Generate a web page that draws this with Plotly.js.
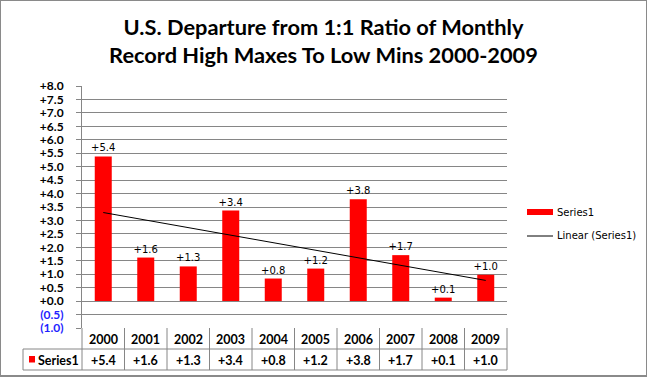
<!DOCTYPE html>
<html>
<head>
<meta charset="utf-8">
<script src="https://cdn.plot.ly/plotly-3.0.1.min.js"></script>
<style>
  html, body { margin: 0; padding: 0; background: #fff; }
  #wrap { width: 647px; height: 377px; box-sizing: border-box; border: 1px solid #8a8a8a; border-bottom-width: 2px; position: relative; overflow: hidden; }
  #chart { position: absolute; left: -1px; top: -1px; width: 647px; height: 377px; }
</style>
</head>
<body>
<div id="wrap"><div id="chart"></div></div>
<script>
// ---- data ----
const years = ['2000', '2001', '2002', '2003', '2004', '2005', '2006', '2007', '2008', '2009'];
const values = [5.38, 1.62, 1.29, 3.37, 0.84, 1.21, 3.79, 1.71, 0.13, 0.98];
const valueLabels = ['+5.4', '+1.6', '+1.3', '+3.4', '+0.8', '+1.2', '+3.8', '+1.7', '+0.1', '+1.0'];
const tickValues = [-1, -0.5, 0, 0.5, 1, 1.5, 2, 2.5, 3, 3.5, 4, 4.5, 5, 5.5, 6, 6.5, 7, 7.5, 8];
const tickLabels = ['(1.0)', '(0.5)', '+0.0', '+0.5', '+1.0', '+1.5', '+2.0', '+2.5', '+3.0', '+3.5',
                    '+4.0', '+4.5', '+5.0', '+5.5', '+6.0', '+6.5', '+7.0', '+7.5', '+8.0'];
const seriesName = 'Series1';
const trendName = 'Linear (Series1)';

// ---- linear trendline (least squares over category index) ----
const n = values.length;
const xs = values.map((_, i) => i);
const mx = xs.reduce((a, b) => a + b, 0) / n;
const my = values.reduce((a, b) => a + b, 0) / n;
let sxy = 0, sxx = 0;
for (let i = 0; i < n; i++) { sxy += (xs[i] - mx) * (values[i] - my); sxx += (xs[i] - mx) ** 2; }
const slope = sxy / sxx, intercept = my - slope * mx;
const trendY = [intercept, intercept + slope * (n - 1)];

// ---- layout geometry ----
const W = 647, H = 377;
const L = 82, R = 507, T = 86, B = 328, MR = 18;
const paperW = W - L - MR, plotW = R - L, plotH = B - T;
const catW = plotW / n;
const xP = px => (px - L) / paperW;          // pixel -> paper x
const yP = py => (B - py) / plotH;           // pixel -> paper y
const catX = i => xP(L + (i + 0.5) * catW);  // category centre in paper x
const edgeX = i => xP(L + i * catW);         // category edge in paper x

const grid = '#868686';
const tickFont = { family: 'Lato, Arial, sans-serif', size: 12, color: '#000', weight: 'bold' };
const tableFont = { family: 'Lato, Arial, sans-serif', size: 12.5, color: '#000', weight: 'bold' };
const legFont = { family: 'DejaVu Sans, Verdana, sans-serif', size: 10, color: '#000' };

const yearRowBottom = 349, tableBottom = 370, tableLeft = 23;

const shapes = [];
const annotations = [];
const ln = (x0, y0, x1, y1) => shapes.push({ type: 'line', xref: 'paper', yref: 'paper', x0, y0, x1, y1, line: { color: grid, width: 1 } });
// table lines
ln(xP(tableLeft), yP(yearRowBottom), edgeX(n), yP(yearRowBottom));
ln(xP(tableLeft), yP(tableBottom), edgeX(n), yP(tableBottom));
for (let i = 0; i <= n; i++) ln(edgeX(i), 0, edgeX(i), yP(tableBottom));
ln(xP(tableLeft), yP(yearRowBottom), xP(tableLeft), yP(tableBottom));
// red key in table
shapes.push({ type: 'rect', xref: 'paper', yref: 'paper', x0: xP(29), x1: xP(35), y0: yP(362.5), y1: yP(356), fillcolor: '#ff0000', line: { width: 0 } });

years.forEach((yr, i) => {
  annotations.push({ xref: 'paper', yref: 'paper', x: catX(i), y: yP((B + yearRowBottom) / 2 + 0.5), text: yr, showarrow: false, font: tableFont, xanchor: 'center', yanchor: 'middle' });
  annotations.push({ xref: 'paper', yref: 'paper', x: catX(i), y: yP((yearRowBottom + tableBottom) / 2 + 0.5), text: valueLabels[i], showarrow: false, font: tableFont, xanchor: 'center', yanchor: 'middle' });
});
annotations.push({ xref: 'paper', yref: 'paper', x: xP(36), y: yP((yearRowBottom + tableBottom) / 2 + 0.5), text: seriesName, showarrow: false, font: tableFont, xanchor: 'left', yanchor: 'middle' });

// legend (drawn to match the original's layout)
shapes.push({ type: 'rect', xref: 'paper', yref: 'paper', x0: xP(527), x1: xP(553), y0: yP(215), y1: yP(209), fillcolor: '#ff0000', line: { width: 0 } });
shapes.push({ type: 'line', xref: 'paper', yref: 'paper', x0: xP(527), x1: xP(553), y0: yP(236), y1: yP(236), line: { color: '#000', width: 1 } });
annotations.push({ xref: 'paper', yref: 'paper', x: xP(555), y: yP(212), text: seriesName, showarrow: false, font: legFont, xanchor: 'left', yanchor: 'middle' });
annotations.push({ xref: 'paper', yref: 'paper', x: xP(555), y: yP(236), text: trendName, showarrow: false, font: legFont, xanchor: 'left', yanchor: 'middle' });

const data = [
  {
    type: 'bar', name: seriesName, x: years, y: values,
    marker: { color: '#ff0000' }, width: 0.4,
    text: valueLabels, textposition: 'outside', cliponaxis: false, constraintext: 'none',
    textfont: { family: 'DejaVu Sans, Verdana, sans-serif', size: 10, color: '#000' },
    hoverinfo: 'x+y', showlegend: false
  },
  {
    type: 'scatter', mode: 'lines', name: trendName,
    x: [years[0], years[n - 1]], y: trendY,
    line: { color: '#000', width: 1 }, showlegend: false
  }
];

const layout = {
  width: W, height: H,
  margin: { l: L, r: MR, t: T, b: H - B, pad: 0 },
  paper_bgcolor: 'rgba(0,0,0,0)', plot_bgcolor: '#fff',
  title: {
    text: 'U.S. Departure from 1:1 Ratio of Monthly<br>Record High Maxes To Low Mins 2000-2009',
    font: { family: 'Lato, Arial, sans-serif', size: 21.8, color: '#000', weight: 'bold' },
    xref: 'container', x: 0.5, xanchor: 'center',
    yref: 'container', y: 1 - 35 / H, yanchor: 'top'
  },
  showlegend: false,
  xaxis: {
    type: 'category', domain: [0, plotW / paperW], range: [-0.5, n - 0.5],
    showticklabels: false, ticks: '', showgrid: false, zeroline: false, showline: false, fixedrange: true
  },
  yaxis: {
    range: [-1, 8], tickvals: tickValues,
    ticktext: tickLabels.map((t, i) => tickValues[i] < 0 ? '<span style="color:#1f1fff">' + t + '</span>' : t),
    tickfont: tickFont,
    showgrid: true, gridcolor: grid, gridwidth: 1,
    zeroline: true, zerolinecolor: grid, zerolinewidth: 1,
    showline: true, linecolor: grid, linewidth: 1,
    ticks: 'outside', ticklen: 5, tickcolor: grid, ticklabelstandoff: 10, fixedrange: true
  },
  shapes: shapes,
  annotations: annotations
};

Plotly.newPlot('chart', data, layout, { displayModeBar: false, staticPlot: true });
</script>
</body>
</html>
